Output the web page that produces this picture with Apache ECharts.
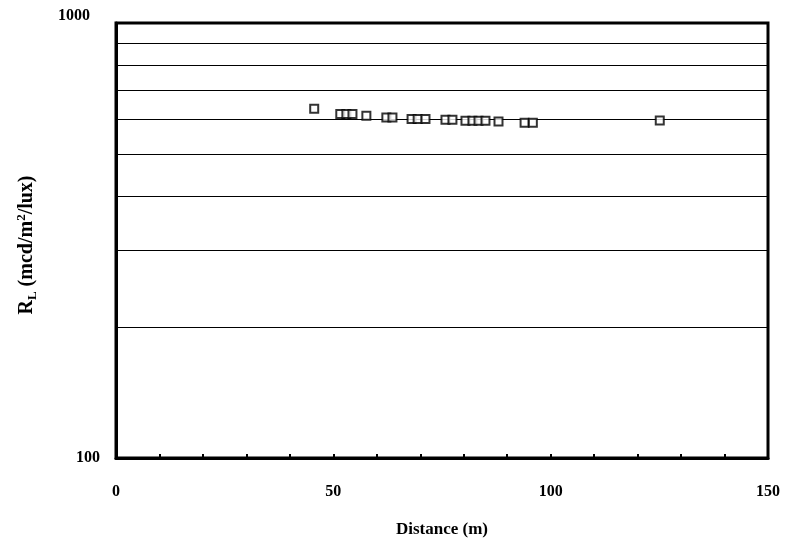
<!DOCTYPE html>
<html>
<head>
<meta charset="utf-8">
<script src="https://cdn.jsdelivr.net/npm/echarts@6/dist/echarts.min.js"></script>
<style>html,body{margin:0;padding:0;background:#fff}#c{width:785px;height:543px}</style>
</head>
<body>
<div id="c"></div>
<script>
var distances = [45.6, 51.6, 53.0, 54.4, 57.6, 62.2, 63.6, 68.0, 69.4, 71.2, 75.8, 77.4, 80.4, 82.0, 83.4, 85.0, 88.0, 94.0, 95.9, 125.1];
var rlValues  = [635, 618, 618, 618, 612, 606, 606, 602, 602, 602, 599, 599, 596, 596, 596, 596, 594, 590, 590, 597];
var gridValues = [200, 300, 400, 500, 600, 700, 800, 900];
var xTicks = [0, 50, 100, 150];
var yTicks = [100, 1000];

var FONT = '"Liberation Serif", "Times New Roman", serif';
var points = distances.map(function (d, i) { return [d, rlValues[i]]; });

var chart = echarts.init(document.getElementById('c'));
chart.setOption({
  animation: false,
  backgroundColor: '#fff',
  grid: { left: 116, right: 17, top: 23, bottom: 85, show: true, borderColor: '#000', borderWidth: 3, backgroundColor: 'transparent' },
  xAxis: {
    type: 'value', min: xTicks[0], max: xTicks[xTicks.length - 1], interval: 50,
    name: 'Distance (m)', nameLocation: 'middle', nameGap: 63,
    nameTextStyle: { fontFamily: FONT, fontWeight: 'bold', fontSize: 17, color: '#000' },
    axisLine: { lineStyle: { color: '#000', width: 3 } },
    axisTick: { show: true, inside: true, length: 4, lineStyle: { color: '#000', width: 2 } },
    minorTick: { show: true, splitNumber: 5, length: 4, lineStyle: { color: '#000', width: 2 } },
    axisLabel: { margin: 26, fontFamily: FONT, fontWeight: 'bold', fontSize: 16, color: '#000' },
    splitLine: { show: false }
  },
  yAxis: {
    type: 'log', logBase: 10, min: yTicks[0], max: yTicks[1],
    axisLine: { show: true, lineStyle: { color: '#000', width: 3 } },
    axisTick: { show: false },
    axisLabel: {
      margin: 16, fontFamily: FONT, fontWeight: 'bold', fontSize: 16, color: '#000',
      formatter: function (v) { return v >= 1000 ? '{t|' + v + '}' : '{b|' + v + '}'; },
      rich: {
        t: { fontFamily: FONT, fontWeight: 'bold', fontSize: 16, color: '#000', padding: [0, 10, 14, 0] },
        b: { fontFamily: FONT, fontWeight: 'bold', fontSize: 16, color: '#000' }
      }
    },
    splitLine: { show: false }
  },
  graphic: [{
    type: 'text', x: 27, y: 245, rotation: Math.PI / 2,
    style: {
      text: '{a|R}{s|L}{a| (mcd/m}{p|2}{a|/lux)}',
      align: 'center', verticalAlign: 'middle',
      rich: {
        a: { fontFamily: FONT, fontWeight: 'bold', fontSize: 20, color: '#000', lineHeight: 24 },
        s: { fontFamily: FONT, fontWeight: 'bold', fontSize: 13, color: '#000', verticalAlign: 'bottom', lineHeight: 24, padding: [9, 0, 0, 0] },
        p: { fontFamily: FONT, fontWeight: 'bold', fontSize: 13, color: '#000', verticalAlign: 'top', lineHeight: 24, padding: [0, 0, 9, 0] }
      }
    }
  }],
  series: [{
    type: 'scatter',
    data: points,
    symbol: 'rect', symbolSize: 8,
    itemStyle: { color: '#fff', borderColor: '#000', borderWidth: 2 },
    z: 5,
    markLine: {
      silent: true, symbol: 'none', animation: false,
      label: { show: false },
      lineStyle: { color: '#000', width: 1, type: 'solid' },
      data: gridValues.map(function (v) { return { yAxis: v }; })
    }
  }]
});
</script>
</body>
</html>
